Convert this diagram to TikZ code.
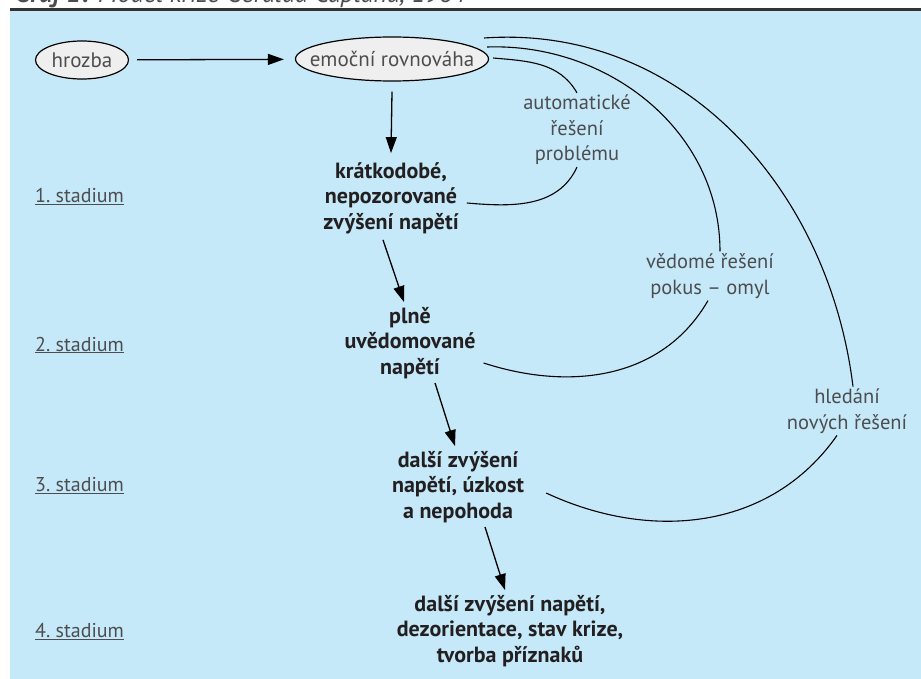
\documentclass[tikz,border=0pt]{standalone}
\usepackage{fontspec}
\setmainfont{PT Sans}
\usetikzlibrary{shapes.geometric,arrows.meta,positioning}

\definecolor{bgblue}{RGB}{197,233,249}
\definecolor{txtgray}{RGB}{77,77,79}
\definecolor{txtdark}{RGB}{35,31,32}
\definecolor{ellfill}{RGB}{239,239,239}

\tikzset{
  state/.style={ellipse,draw=black,fill=ellfill,line width=1.2pt,
    inner xsep=-14pt,inner ysep=0pt,
    text=txtgray,font=\fontsize{21}{25}\selectfont},
  stage/.style={align=center,text=txtdark,inner sep=2pt,
    font=\fontsize{22}{25.5}\selectfont\bfseries},
  way/.style={align=center,text=txtgray,inner sep=2pt,
    font=\fontsize{20.5}{25.5}\selectfont},
  stadium/.style={anchor=west,text=txtgray,inner sep=0pt,
    font=\fontsize{20}{22}\selectfont},
  arr/.style={line width=1.3pt,-{Triangle[length=16pt,width=11pt]}},
  bow/.style={line width=1.1pt}
}

\begin{document}
\begin{tikzpicture}[x=1pt,y=1pt]
\useasboundingbox (0,0) rectangle (921,-679);

% frame
\fill[bgblue] (10,-11) rectangle (921,-679);
\draw[line width=3pt,black!80] (10,-9.5) -- (921,-9.5);
\node[anchor=base west,inner sep=0pt,text=txtgray,font=\fontsize{26}{28}\selectfont\itshape]
  (caption) at (15,-3) {\textbf{Graf 1:} Model krize Geralda Caplana, 1964};

% states
\node[state,minimum width=93,minimum height=38] (hrozba) at (82,-60) {hrozba};
\node[state,minimum width=193,minimum height=44] (emo) at (392,-59) {emoční rovnováha};

% stages
\node[stage] (st1) at (391,-198) {krátkodobé,\\nepozorované\\zvýšení napětí};
\node[stage] (st2) at (410,-343) {plně\\uvědomované\\napětí};
\node[stage] (st3) at (458,-487) {další zvýšení\\napětí, úzkost\\a nepohoda};
\node[stage] (st4) at (510,-631) {další zvýšení napětí,\\dezorientace, stav krize,\\tvorba příznaků};

% ways out
\node[way] (auto) at (577,-130) {automatické\\řešení\\problému};
\node[way] (vedome) at (710,-276) {vědomé řešení\\pokus – omyl};
\node[way] (nove) at (847,-411) {hledání\\nových řešení};

\foreach \i / \y in {1/197,2/345,3/486,4/632}
  \node[stadium] (stad\i) at (35,-\y) {\underline{\i.\ stadium}};

% arrows
\draw[arr,shorten <=8pt,shorten >=11pt] (hrozba) -- (emo);
\draw[arr] ([yshift=-10]emo.south) -- ([yshift=7]st1.north);
\draw[arr] ([xshift=-8,yshift=-4]st1.south) -- ([xshift=-6,yshift=3]st2.north);
\draw[arr] ([xshift=25,yshift=-2]st2.south) -- ([xshift=-3,yshift=3]st3.north);
\draw[arr] ([xshift=27,yshift=-2]st3.south) -- ([xshift=-5,yshift=3]st4.north);

% bows
\draw[bow] ([shift={(4,1)}]emo.east) to[out=-5,in=120] (auto.north);
\draw[bow] ([shift={(-2,12)}]emo.east) to[out=2,in=90] ([xshift=10]vedome.north);
\draw[bow] ([shift={(-5,21)}]emo.east) to[out=4,in=97] ([xshift=6]nove.north);
\draw[bow] (auto.south) to[out=-115,in=-5] ([shift={(6,-5)}]st1.east);
\draw[bow] ([xshift=-2]vedome.south) to[out=-120,in=-18] ([shift={(6,-20)}]st2.east);
\draw[bow] ([xshift=-10]nove.south) to[out=-125,in=-25] ([shift={(20,-6)}]st3.east);
\end{tikzpicture}
\end{document}
